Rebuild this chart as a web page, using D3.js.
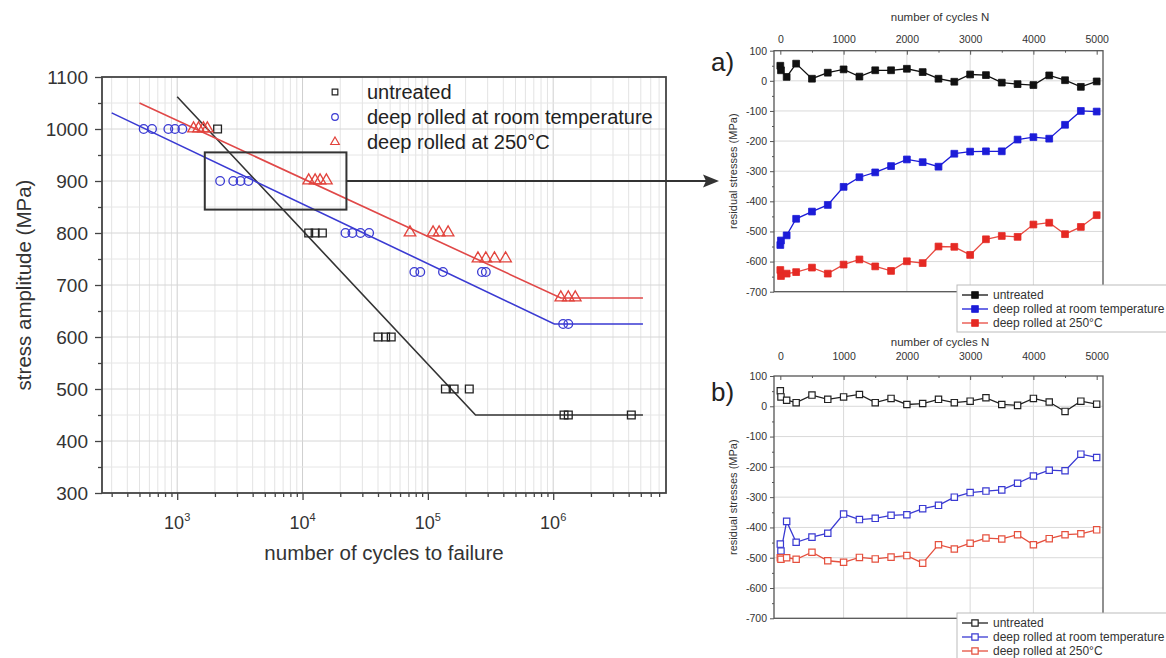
<!DOCTYPE html>
<html><head><meta charset="utf-8">
<script src="https://cdn.jsdelivr.net/npm/d3@7"></script>
<style>
body{margin:0;background:#fff;}
svg{font-family:"Liberation Sans",Arial,Helvetica,sans-serif;}
</style></head><body>
<svg id="c" width="1166" height="658"></svg>
<script>
// ---------- main S-N chart data ----------
const untreatedN = [2100, 11200, 12600, 14400, 40000, 46000, 51000, 138000, 162000, 214000, 1220000, 1320000, 4200000];
const untreatedS = [1000, 800, 800, 800, 600, 600, 600, 500, 500, 500, 450, 450, 450];
const roomN = [540, 630, 850, 960, 1100, 2200, 2800, 3200, 3700, 22000, 25000, 29000, 34000, 78000, 87000, 132000, 270000, 290000, 1200000, 1320000];
const roomS = [1000, 1000, 1000, 1000, 1000, 900, 900, 900, 900, 800, 800, 800, 800, 725, 725, 725, 725, 725, 625, 625];
const hotN = [1350, 1480, 1620, 1740, 11200, 12600, 13800, 15500, 72000, 110000, 123000, 145000, 251000, 290000, 340000, 417000, 1150000, 1320000, 1500000];
const hotS = [1000, 1000, 1000, 1000, 900, 900, 900, 900, 800, 800, 800, 800, 750, 750, 750, 750, 675, 675, 675];
// fitted curves (N, stress)
const untreatedFitN = [1000, 240000, 5200000];
const untreatedFitS = [1062, 450, 450];
const roomFitN = [300, 1020000, 5200000];
const roomFitS = [1031, 625, 625];
const hotFitN = [500, 1150000, 5200000];
const hotFitS = [1050, 675, 675];
// zoom box
const boxN = [1660, 22400];
const boxS = [845, 955];
const arrowS = 900;
const mainYTicks = [300, 400, 500, 600, 700, 800, 900, 1000, 1100];
const mainXTicks = [1e3, 1e4, 1e5, 1e6];
const mainXExp = ["3", "4", "5", "6"];
const legendNames = ["untreated", "deep rolled at room temperature", "deep rolled at 250°C"];

// ---------- residual stress charts ----------
const cycles = [0, 10, 100, 250, 500, 750, 1000, 1250, 1500, 1750, 2000, 2250, 2500, 2750, 3000, 3250, 3500, 3750, 4000, 4250, 4500, 4750, 5000];
const aUntreated = [50, 35, 13, 57, 7, 27, 38, 14, 35, 35, 40, 29, 7, -3, 21, 19, -6, -11, -14, 18, 2, -20, -2];
const aRoom = [-545, -530, -513, -458, -434, -412, -352, -320, -304, -283, -261, -270, -285, -242, -235, -234, -234, -195, -187, -192, -146, -100, -102];
const aHot = [-628, -648, -640, -635, -620, -640, -610, -593, -616, -631, -599, -605, -550, -551, -578, -526, -515, -518, -477, -471, -509, -485, -446];
const bUntreated = [51, 31, 20, 12, 37, 23, 31, 39, 12, 26, 6, 9, 23, 12, 17, 28, 6, 3, 26, 14, -17, 17, 7];
const bRoom = [-455, -478, -380, -449, -432, -419, -356, -374, -370, -360, -358, -338, -327, -300, -285, -280, -276, -254, -230, -211, -213, -158, -169];
const bHot = [-500, -505, -500, -505, -482, -510, -515, -499, -504, -498, -493, -518, -457, -471, -452, -435, -438, -424, -457, -437, -424, -421, -408];
const cycleTicks = [0, 1000, 2000, 3000, 4000, 5000];
const stressTicks = [-700, -600, -500, -400, -300, -200, -100, 0, 100];

const C_BLACK = "#222", C_BLUE = "#3a3ad2", C_RED = "#e2433c";
const C_BLUE_F = "#1c1cd8", C_RED_F = "#e52a24";
const svg = d3.select("#c");

// ================= MAIN CHART =================
const x = d3.scaleLog().domain([Math.pow(10, 2.4), Math.pow(10, 6.9)]).range([102, 666]);
const y = d3.scaleLinear().domain([300, 1100]).range([493, 77]);
const main = svg.append("g");

// grid
const minorX = [];
for (let d = 2; d <= 6; d++) for (let k = 1; k <= 9; k++) {
  const v = k * Math.pow(10, d);
  if (v > x.domain()[0] && v < x.domain()[1]) minorX.push(v);
}
main.append("g").selectAll("line").data(minorX).join("line")
  .attr("x1", d => x(d)).attr("x2", d => x(d)).attr("y1", y(300)).attr("y2", y(1100))
  .attr("stroke", d => mainXTicks.includes(d) ? "#cfcfcf" : "#e3e3e3").attr("stroke-width", 1);
main.append("g").selectAll("line").data(d3.range(350, 1100, 50)).join("line")
  .attr("x1", x.range()[0]).attr("x2", x.range()[1]).attr("y1", d => y(d)).attr("y2", d => y(d))
  .attr("stroke", d => d % 100 === 0 ? "#d6d6d6" : "#e6e6e6").attr("stroke-width", 1);

// axes
const yAx = main.append("g").attr("transform", `translate(${x.range()[0]},0)`)
  .call(d3.axisLeft(y).tickValues(mainYTicks).tickSize(7).tickPadding(7).tickFormat(d => String(d)));
main.append("g").attr("transform", `translate(${x.range()[0]},0)`)
  .call(d3.axisLeft(y).tickValues(d3.range(350, 1100, 100)).tickSize(4).tickFormat(""));
main.append("g").attr("transform", `translate(0,${y.range()[0]})`)
  .call(d3.axisBottom(x).tickValues(mainXTicks).tickSize(7).tickFormat(""));
main.append("g").attr("transform", `translate(0,${y.range()[0]})`)
  .call(d3.axisBottom(x).tickValues(minorX.filter(v => !mainXTicks.includes(v))).tickSize(4).tickFormat(""));
main.selectAll(".domain").remove();
main.selectAll(".tick line").attr("stroke", "#444").attr("stroke-width", 1.3);
yAx.selectAll("text").attr("font-size", 19).attr("fill", "#333");
mainXTicks.forEach((v, i) => {
  const t = main.append("text").attr("x", x(v)).attr("y", 529).attr("text-anchor", "middle")
    .attr("font-size", 18).attr("fill", "#333");
  t.append("tspan").text("10");
  t.append("tspan").attr("dy", -8).attr("font-size", 11).text(mainXExp[i]);
});
main.append("rect").attr("x", x.range()[0]).attr("y", y.range()[1])
  .attr("width", x.range()[1] - x.range()[0]).attr("height", y.range()[0] - y.range()[1])
  .attr("fill", "none").attr("stroke", "#444").attr("stroke-width", 1.8);

main.append("text").attr("x", (x.range()[0] + x.range()[1]) / 2).attr("y", 560)
  .attr("text-anchor", "middle").attr("font-size", 20.5).attr("fill", "#333")
  .text("number of cycles to failure");
main.append("text").attr("transform", `translate(31,${(y.range()[0] + y.range()[1]) / 2}) rotate(-90)`)
  .attr("text-anchor", "middle").attr("font-size", 20.5).attr("fill", "#333")
  .text("stress amplitude (MPa)");

// fit lines
const lineMain = d3.line().x(d => x(d[0])).y(d => y(d[1]));
[[untreatedFitN, untreatedFitS, "#333"], [roomFitN, roomFitS, C_BLUE], [hotFitN, hotFitS, "#e04848"]]
  .forEach(([ns, ss, col]) => {
    main.append("path").datum(ns.map((n, i) => [n, ss[i]])).attr("d", lineMain)
      .attr("fill", "none").attr("stroke", col).attr("stroke-width", 1.6);
  });

// markers
const sq = d3.symbol().type(d3.symbolSquare).size(60);
const tri = d3.symbol().type(d3.symbolTriangle).size(58);
main.append("g").selectAll("path").data(untreatedN.map((n, i) => [n, untreatedS[i]])).join("path")
  .attr("d", sq).attr("transform", d => `translate(${x(d[0])},${y(d[1])})`)
  .attr("fill", "none").attr("stroke", C_BLACK).attr("stroke-width", 1.3);
main.append("g").selectAll("circle").data(roomN.map((n, i) => [n, roomS[i]])).join("circle")
  .attr("cx", d => x(d[0])).attr("cy", d => y(d[1])).attr("r", 4.3)
  .attr("fill", "none").attr("stroke", C_BLUE).attr("stroke-width", 1.3);
main.append("g").selectAll("path").data(hotN.map((n, i) => [n, hotS[i]])).join("path")
  .attr("d", tri).attr("transform", d => `translate(${x(d[0])},${y(d[1]) - 0.5})`)
  .attr("fill", "none").attr("stroke", C_RED).attr("stroke-width", 1.3);

// legend
const lg = main.append("g");
const lgY = [92, 117, 142];
lg.append("path").attr("d", d3.symbol().type(d3.symbolSquare).size(32))
  .attr("transform", `translate(335,${lgY[0]})`).attr("fill", "none").attr("stroke", C_BLACK).attr("stroke-width", 1.2);
lg.append("circle").attr("cx", 335).attr("cy", lgY[1]).attr("r", 3.3)
  .attr("fill", "none").attr("stroke", C_BLUE).attr("stroke-width", 1.2);
lg.append("path").attr("d", d3.symbol().type(d3.symbolTriangle).size(32))
  .attr("transform", `translate(335,${lgY[2]})`).attr("fill", "none").attr("stroke", C_RED).attr("stroke-width", 1.2);
legendNames.forEach((nm, i) => {
  lg.append("text").attr("x", 367).attr("y", lgY[i] + 7).attr("font-size", 20).attr("fill", "#222").text(nm);
});

// zoom box + arrow
main.append("rect").attr("x", x(boxN[0])).attr("y", y(boxS[1]))
  .attr("width", x(boxN[1]) - x(boxN[0])).attr("height", y(boxS[0]) - y(boxS[1]))
  .attr("fill", "none").attr("stroke", "#333").attr("stroke-width", 2);
const ay = y(arrowS);
main.append("line").attr("x1", x(boxN[1])).attr("x2", 706).attr("y1", ay).attr("y2", ay)
  .attr("stroke", "#333").attr("stroke-width", 2.2);
main.append("path").attr("d", `M719,${ay} L703,${ay - 6.5} L706,${ay} L703,${ay + 6.5} Z`).attr("fill", "#333");

// ================= RESIDUAL STRESS CHARTS =================
function drawRS(cfg) {
  const g = svg.append("g");
  const xs = d3.scaleLinear().domain([-100, 5100]).range([774, 1103]);
  const ys = d3.scaleLinear().domain([-700, 100]).range(cfg.yr);
  // grid
  g.append("g").selectAll("line").data([1000, 2000, 3000, 4000]).join("line")
    .attr("x1", d => xs(d)).attr("x2", d => xs(d)).attr("y1", ys(-700)).attr("y2", ys(100))
    .attr("stroke", "#d9d9d9");
  g.append("g").selectAll("line").data([-600, -500, -400, -300, -200, -100, 0]).join("line")
    .attr("x1", xs.range()[0]).attr("x2", xs.range()[1]).attr("y1", d => ys(d)).attr("y2", d => ys(d))
    .attr("stroke", "#d9d9d9");
  // axes
  const la = g.append("g").attr("transform", `translate(${xs.range()[0]},0)`)
    .call(d3.axisLeft(ys).tickValues(stressTicks).tickSize(4).tickPadding(3).tickFormat(d => String(d)));
  g.append("g").attr("transform", `translate(${xs.range()[0]},0)`)
    .call(d3.axisLeft(ys).tickValues(d3.range(-650, 100, 100)).tickSize(2).tickFormat(""));
  const ta = g.append("g").attr("transform", `translate(0,${ys.range()[1]})`)
    .call(d3.axisTop(xs).tickValues(cycleTicks).tickSize(-4).tickPadding(cfg.tp).tickFormat(d => String(d)));
  g.append("g").attr("transform", `translate(0,${ys.range()[1]})`)
    .call(d3.axisTop(xs).tickValues([500, 1500, 2500, 3500, 4500]).tickSize(-2).tickFormat(""));
  g.selectAll(".domain").remove();
  g.selectAll(".tick line").attr("stroke", "#555");
  la.selectAll("text").attr("font-size", 10.5).attr("fill", "#333");
  ta.selectAll("text").attr("font-size", 10.5).attr("fill", "#333");
  g.append("rect").attr("x", xs.range()[0]).attr("y", ys.range()[1])
    .attr("width", xs.range()[1] - xs.range()[0]).attr("height", ys.range()[0] - ys.range()[1])
    .attr("fill", "none").attr("stroke", "#555").attr("stroke-width", 1.3);
  g.append("text").attr("x", 940).attr("y", cfg.titleY).attr("text-anchor", "middle")
    .attr("font-size", 11.5).attr("fill", "#333").text("number of cycles N");
  g.append("text").attr("transform", `translate(737,${(ys.range()[0] + ys.range()[1]) / 2}) rotate(-90)`)
    .attr("text-anchor", "middle").attr("font-size", 11).attr("fill", "#333").text("residual stresses (MPa)");
  g.append("text").attr("x", 711).attr("y", cfg.labY).attr("font-size", 26).attr("fill", "#222").text(cfg.lab);

  const ln = d3.line().x(d => xs(d[0])).y(d => ys(d[1]));
  const sqs = d3.symbol().type(d3.symbolSquare).size(cfg.filled ? 46 : 40);
  cfg.series.forEach(s => {
    const pts = cycles.map((c, i) => [c, s.v[i]]);
    g.append("path").datum(pts).attr("d", ln).attr("fill", "none")
      .attr("stroke", s.line).attr("stroke-width", 1.3);
    g.append("g").selectAll("path").data(pts).join("path").attr("d", sqs)
      .attr("transform", d => `translate(${xs(d[0])},${ys(d[1])})`)
      .attr("fill", cfg.filled ? s.mark : "#fff").attr("stroke", s.mark).attr("stroke-width", cfg.filled ? 0.8 : 1.2);
  });
  // legend
  const lgd = g.append("g");
  lgd.append("rect").attr("x", 957).attr("y", cfg.legY).attr("width", 215).attr("height", 47)
    .attr("fill", "#fff").attr("stroke", "#bbb").attr("stroke-width", 1);
  cfg.series.forEach((s, i) => {
    const yy = cfg.legY + 10 + i * 14;
    lgd.append("line").attr("x1", 962).attr("x2", 988).attr("y1", yy).attr("y2", yy)
      .attr("stroke", s.line).attr("stroke-width", 1.3);
    lgd.append("path").attr("d", sqs).attr("transform", `translate(975,${yy})`)
      .attr("fill", cfg.filled ? s.mark : "#fff").attr("stroke", s.mark).attr("stroke-width", cfg.filled ? 0.8 : 1.2);
    lgd.append("text").attr("x", 993).attr("y", yy + 4).attr("font-size", 12).attr("fill", "#333").text(legendNames[i]);
  });
}

drawRS({ yr: [291.7, 50.7], tp: 8, titleY: 21, lab: "a)", labY: 71, legY: 285, filled: true,
  series: [{ v: aUntreated, line: "#111", mark: "#111" }, { v: aRoom, line: C_BLUE_F, mark: C_BLUE_F }, { v: aHot, line: "#e84a40", mark: C_RED_F }] });
drawRS({ yr: [618.3, 376], tp: 16, titleY: 346, lab: "b)", labY: 401, legY: 613, filled: false,
  series: [{ v: bUntreated, line: "#222", mark: "#222" }, { v: bRoom, line: C_BLUE, mark: C_BLUE }, { v: bHot, line: "#e5503e", mark: "#e5503e" }] });
</script>
</body></html>
